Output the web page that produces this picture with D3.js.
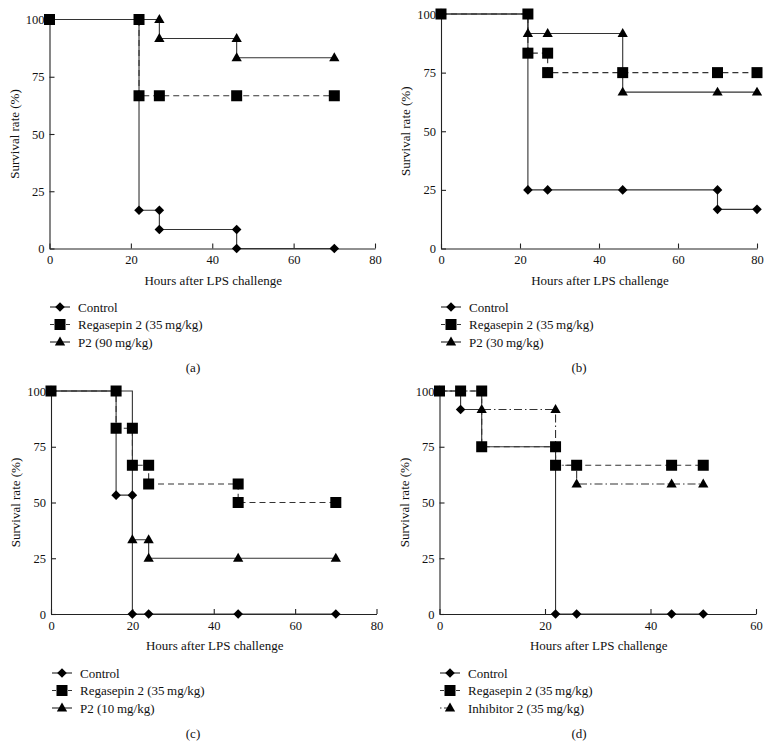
<!DOCTYPE html>
<html>
<head>
<meta charset="utf-8">
<script src="https://cdn.jsdelivr.net/npm/d3@7"></script>
<style>
  body { margin: 0; background: #fff; }
  svg text { font-family: "Liberation Serif", "DejaVu Serif", serif; fill: #111; }
</style>
</head>
<body>
<div id="chart"></div>
<script>
// Survival data: [hours, survival %], step points (marker drawn at each)
const aControl   = [[0,100],[22,16.7],[27,16.7],[27,8.3],[46,8.3],[46,0],[70,0]];
const aRegasepin = [[0,100],[22,100],[22,66.7],[27,66.7],[46,66.7],[70,66.7]];
const aP2        = [[0,100],[27,100],[27,91.7],[46,91.7],[46,83.3],[70,83.3]];

const bControl   = [[0,100],[22,25],[27,25],[46,25],[70,25],[70,16.7],[80,16.7]];
const bRegasepin = [[0,100],[22,100],[22,83.3],[27,83.3],[27,75],[46,75],[70,75],[80,75]];
const bP2        = [[0,100],[22,91.7],[27,91.7],[46,91.7],[46,66.7],[70,66.7],[80,66.7]];

const cControl   = [[0,100],[16,53.3],[20,53.3],[20,0],[24,0],[46,0],[70,0]];
const cRegasepin = [[0,100],[16,100],[16,83.3],[20,83.3],[20,66.7],[24,66.7],[24,58.3],[46,58.3],[46,50],[70,50]];
const cP2        = [[0,100],[20,33.3],[24,33.3],[24,25],[46,25],[70,25]];

const dControl   = [[0,100],[4,91.7],[8,75],[22,0],[26,0],[44,0],[50,0]];
const dRegasepin = [[0,100],[4,100],[8,100],[8,75],[22,75],[22,66.7],[26,66.7],[44,66.7],[50,66.7]];
const dInhibitor = [[0,100],[8,91.7],[22,91.7],[22,66.7],[26,58.3],[44,58.3],[50,58.3]];

const yTicks = [0, 25, 50, 75, 100];
const xTicks80 = [0, 20, 40, 60, 80];
const xTicks60 = [0, 20, 40, 60];

const legendA = ["Control", "Regasepin 2 (35\u2009mg/kg)", "P2 (90\u2009mg/kg)"];
const legendB = ["Control", "Regasepin 2 (35\u2009mg/kg)", "P2 (30\u2009mg/kg)"];
const legendC = ["Control", "Regasepin 2 (35\u2009mg/kg)", "P2 (10\u2009mg/kg)"];
const legendD = ["Control", "Regasepin 2 (35\u2009mg/kg)", "Inhibitor 2 (35\u2009mg/kg)"];

const W = 772, H = 747;
const LINE = "#333";

const svg = d3.select("#chart").append("svg")
    .attr("width", W)
    .attr("height", H);
svg.append("rect").attr("width", W).attr("height", H).attr("fill", "#fff");

// marker + dash style per series kind
const STYLES = {
    control:   { shape: "diamond",  dash: null },
    regasepin: { shape: "square",   dash: "6,4" },
    p2:        { shape: "triangle", dash: null },
    inhibitor: { shape: "triangle", dash: "8,3,1.5,3" }
};

function marker(g, shape, x, y) {
    if (shape === "square") {
        g.append("rect").attr("x", x - 5.5).attr("y", y - 5.5)
            .attr("width", 11).attr("height", 11).attr("fill", "#000");
    } else if (shape === "diamond") {
        g.append("path").attr("d", d3.symbol(d3.symbolSquare, 46)())
            .attr("transform", `translate(${x},${y}) rotate(45)`).attr("fill", "#000");
    } else {
        g.append("path").attr("d", d3.symbol(d3.symbolTriangle, 46)())
            .attr("transform", `translate(${x},${y + 0.5})`).attr("fill", "#000");
    }
}

function drawPanel(p) {
    const x = d3.scaleLinear().domain([0, p.xMax]).range([p.x0, p.x1]);
    const y = d3.scaleLinear().domain([0, 100]).range([p.y0, p.y1]);
    const g = svg.append("g");

    const xAxis = g.append("g")
        .attr("transform", `translate(0,${p.y0})`)
        .call(d3.axisBottom(x).tickValues(p.xTicks).tickSizeInner(-5).tickSizeOuter(0).tickPadding(7));
    const yAxis = g.append("g")
        .attr("transform", `translate(${p.x0},0)`)
        .call(d3.axisLeft(y).tickValues(yTicks).tickSizeInner(-5).tickSizeOuter(0).tickPadding(5));
    [xAxis, yAxis].forEach(a => {
        a.selectAll("path, line").attr("stroke", "#222").attr("stroke-width", 1.1);
        a.selectAll("text").style("font-size", "12.5px");
    });

    const line = d3.line()
        .x(d => x(d[0]))
        .y(d => y(d[1]))
        .curve(d3.curveStepAfter);

    p.series.forEach(s => {
        g.append("path")
            .attr("d", line(s.data))
            .attr("fill", "none")
            .attr("stroke", LINE)
            .attr("stroke-width", 1.1)
            .attr("stroke-dasharray", STYLES[s.kind].dash);
    });
    p.series.forEach(s => {
        s.data.forEach(d => marker(g, STYLES[s.kind].shape, x(d[0]), y(d[1])));
    });

    g.append("text")
        .attr("x", (p.x0 + p.x1) / 2 + 1)
        .attr("y", p.y0 + 36)
        .attr("text-anchor", "middle")
        .style("font-size", "13px")
        .text("Hours after LPS challenge");
    g.append("text")
        .attr("transform", `translate(${p.x0 - 31},${(p.y0 + p.y1) / 2}) rotate(-90)`)
        .attr("text-anchor", "middle")
        .style("font-size", "13px")
        .text("Survival rate (%)");

    // legend
    p.series.forEach((s, i) => {
        const ly = p.legY + i * 17.5;
        g.append("line")
            .attr("x1", p.legX).attr("x2", p.legX + 20)
            .attr("y1", ly).attr("y2", ly)
            .attr("stroke", LINE).attr("stroke-width", 1.2)
            .attr("stroke-dasharray", s.kind === "regasepin" ? "4,4" : STYLES[s.kind].dash ? "1.5,2.5,6,10" : null);
        marker(g, STYLES[s.kind].shape, p.legX + 10, ly);
        g.append("text")
            .attr("x", p.legX + 28)
            .attr("y", ly)
            .attr("dy", "0.35em")
            .style("font-size", "13px")
            .text(p.legend[i]);
    });

    g.append("text")
        .attr("x", p.capX)
        .attr("y", p.capY)
        .attr("dy", "0.35em")
        .attr("text-anchor", "middle")
        .style("font-size", "13px")
        .text(p.caption);
}

const panels = [
    { x0: 49.5, x1: 375, y0: 248.5, y1: 19.5, xMax: 80, xTicks: xTicks80,
      series: [{kind: "control", data: aControl}, {kind: "regasepin", data: aRegasepin}, {kind: "p2", data: aP2}],
      legend: legendA, legX: 50, legY: 307, caption: "(a)", capX: 193, capY: 367 },
    { x0: 441, x1: 757, y0: 248.5, y1: 14, xMax: 80, xTicks: xTicks80,
      series: [{kind: "control", data: bControl}, {kind: "regasepin", data: bRegasepin}, {kind: "p2", data: bP2}],
      legend: legendB, legX: 441, legY: 307, caption: "(b)", capX: 579, capY: 367 },
    { x0: 51, x1: 376.5, y0: 614, y1: 391, xMax: 80, xTicks: xTicks80,
      series: [{kind: "control", data: cControl}, {kind: "regasepin", data: cRegasepin}, {kind: "p2", data: cP2}],
      legend: legendC, legX: 52, legY: 673, caption: "(c)", capX: 193, capY: 733 },
    { x0: 439.5, x1: 756, y0: 614, y1: 391, xMax: 60, xTicks: xTicks60,
      series: [{kind: "control", data: dControl}, {kind: "regasepin", data: dRegasepin}, {kind: "inhibitor", data: dInhibitor}],
      legend: legendD, legX: 440, legY: 673, caption: "(d)", capX: 579, capY: 733 }
];

panels.forEach(drawPanel);
</script>
</body>
</html>
